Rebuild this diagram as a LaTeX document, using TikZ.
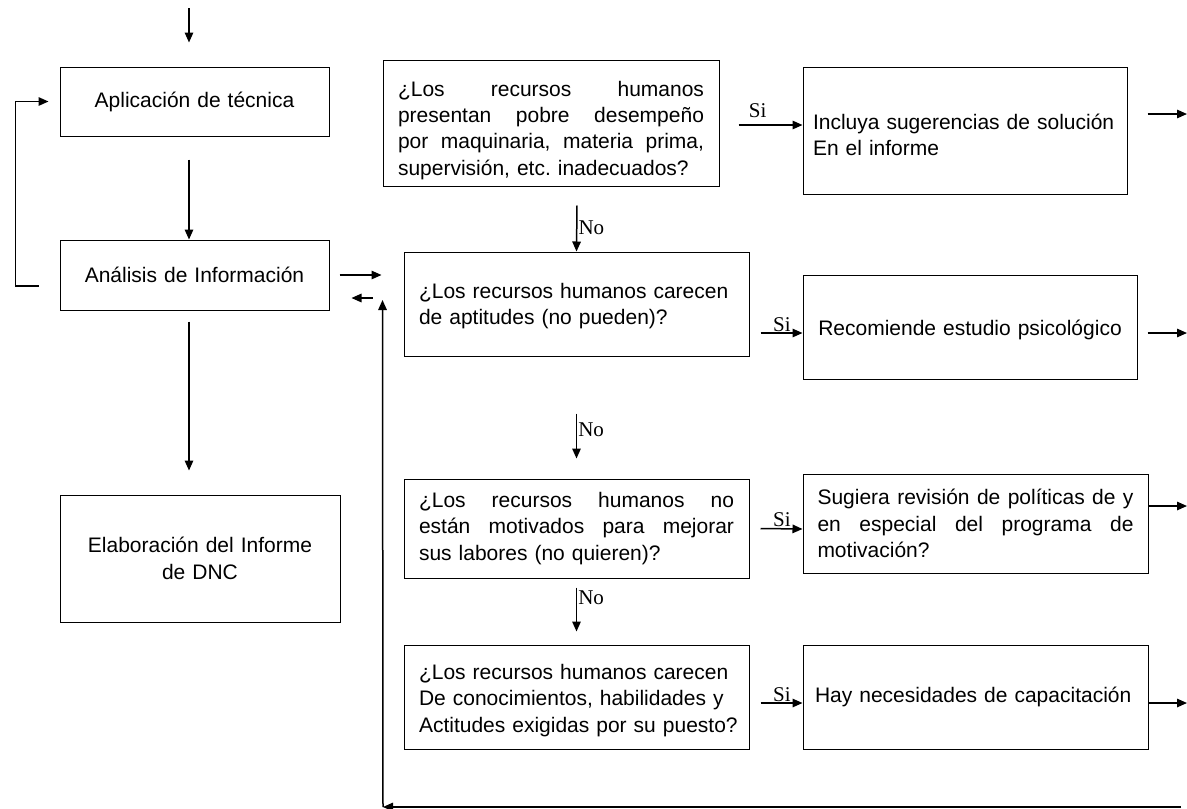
\documentclass[tikz,border=0pt]{standalone}
\usepackage{fontspec}
\setmainfont{Liberation Sans}
\newfontfamily\romana{Liberation Serif}
\usetikzlibrary{arrows.meta}
\frenchspacing
\newcommand{\lj}[2]{\leavevmode\hbox to #1{\spaceskip=\fontdimen2\font plus 1fill\relax #2}}

\begin{document}
\begin{tikzpicture}[
  x=1pt, y=-1pt,
  caja/.style={draw, rectangle, line width=1pt, inner xsep=15pt, inner ysep=0pt,
    font=\fontsize{21}{26.3}\selectfont, execute at begin node={\parindent=0pt}},
  flecha/.style={line width=1.5pt, -{Triangle[length=10pt,width=8.5pt]}},
  etiq/.style={font=\romana\fontsize{21}{24}\selectfont, inner sep=1pt}
]
  \useasboundingbox (0,0) rectangle (1187,809);

  % left column
  \node[caja, text width=239pt, minimum height=69pt, align=center] (apl) at (194.5,101.5) {Aplicación de técnica};
  \node[caja, text width=239pt, minimum height=70pt, align=center] (ana) at (194.5,275) {Análisis de Información};
  \node[caja, text width=250pt, minimum height=127pt, align=center] (ela) at (200,558.5) {Elaboración del Informe\\de DNC};

  % questions
  \node[caja, text width=306pt, minimum height=126pt, align=left] (q1) at (551,123)
    {\rule{0pt}{29.5pt}\lj{306pt}{¿Los recursos humanos}\\\lj{306pt}{presentan pobre desempeño}\\\lj{306pt}{por maquinaria, materia prima,}\\supervisión, etc. inadecuados?};
  \node[caja, text width=315pt, minimum height=104pt, align=left] (q2) at (576.5,304)
    {\rule{0pt}{19pt}¿Los recursos humanos carecen\\de aptitudes (no pueden)?};
  \node[caja, text width=315pt, minimum height=99pt, align=left] (q3) at (576.5,528.5)
    {\lj{315pt}{¿Los recursos humanos no}\\\lj{315pt}{están motivados para mejorar}\\sus labores (no quieren)?\par\vspace*{8pt}};
  \node[caja, text width=315pt, minimum height=104pt, align=left] (q4) at (576.5,697)
    {\rule{0pt}{22pt}\mbox{¿Los recursos humanos carecen}\\\mbox{De conocimientos, habilidades y}\\\mbox{Actitudes exigidas por su puesto?}};

  % answers
  \node[caja, inner xsep=10pt, text width=304pt, minimum height=127pt, align=left] (inc) at (965,130.5)
    {\rule{0pt}{23.5pt}Incluya sugerencias de solución\\En el informe};
  \node[caja, text width=304pt, minimum height=104pt, align=center] (rec) at (970,327) {\rule{0pt}{21pt}Recomiende estudio psicológico};
  \node[caja, inner xsep=14.5pt, text width=316pt, minimum height=99pt, align=left] (sug) at (975.5,523.5)
    {\lj{316pt}{Sugiera revisión de políticas de y}\\\lj{316pt}{en especial del programa de}\\motivación?};
  \node[caja, inner xsep=12pt, text width=321pt, minimum height=104pt, align=left] (hay) at (975.5,697)
    {\mbox{Hay necesidades de capacitación}};

  % free ends
  \coordinate (entrada) at (189,8);
  \coordinate (sal1) at (1187,114);
  \coordinate (sal2) at (1187,333);
  \coordinate (sal3) at (1187,506);
  \coordinate (sal4) at (1187,703);
  \coordinate (finlazo) at (1181,807);
  \coordinate (esquina) at (383,807);

  % left column edges
  \draw[flecha] (entrada) -- ([xshift=-5.5pt,yshift=24pt]apl.north);
  \draw[flecha] ([xshift=-5.5pt,yshift=-23pt]apl.south) -- ([xshift=-5.5pt]ana.north);
  \draw[flecha] ([xshift=-5.5pt,yshift=-11pt]ana.south) -- ([xshift=-11pt,yshift=24pt]ela.north);
  \draw[flecha] ([xshift=-21pt,yshift=-11pt]ana.west) -- ++(-23,0) |- ([xshift=-11pt]apl.west);
  \draw[flecha] ([xshift=10pt]ana.east) -- ([xshift=-22pt,yshift=29pt]q2.west);
  \draw[flecha] ([xshift=-31pt,yshift=6pt]q2.west) -- ([xshift=22pt,yshift=-23pt]ana.east);

  % No edges
  \draw[flecha] ([xshift=26pt,yshift=-19pt]q1.south) -- node[etiq, right, pos=0.49] {No} (q2.north);
  \draw[flecha] ([yshift=-57pt]q2.south) -- node[etiq, right, pos=0.37] {No} ([yshift=20pt]q3.north);
  \draw[flecha] ([yshift=-9pt]q3.south) -- node[etiq, right, pos=0.24] {No} ([yshift=13pt]q4.north);

  % Si edges
  \draw[flecha] ([xshift=19pt,yshift=-2pt]q1.east) -- node[etiq, above, pos=0.3, yshift=6pt] {Si} ([yshift=5.5pt]inc.west);
  \draw[flecha] ([xshift=11pt,yshift=-29pt]q2.east) -- node[etiq, above, pos=0.51] {Si} ([yshift=-6pt]rec.west);
  \draw[flecha] ([xshift=11pt]q3.east) -- node[etiq, above, pos=0.51] {Si} ([yshift=-5.5pt]sug.west);
  \draw[flecha] ([xshift=11pt,yshift=-6pt]q4.east) -- node[etiq, above, pos=0.51] {Si} ([yshift=-6pt]hay.west);

  % exits
  \draw[flecha] ([xshift=20pt,yshift=16.5pt]inc.east) -- (sal1);
  \draw[flecha] ([xshift=10pt,yshift=-6pt]rec.east) -- (sal2);
  \draw[flecha] ([yshift=17.5pt]sug.east) -- (sal3);
  \draw[flecha] ([yshift=-6pt]hay.east) -- (sal4);

  % return loop
  \draw[flecha] (finlazo) -- (esquina);
  \draw[flecha] (esquina) -- ([xshift=-21pt,yshift=4pt]q2.west);

\end{tikzpicture}
\end{document}
